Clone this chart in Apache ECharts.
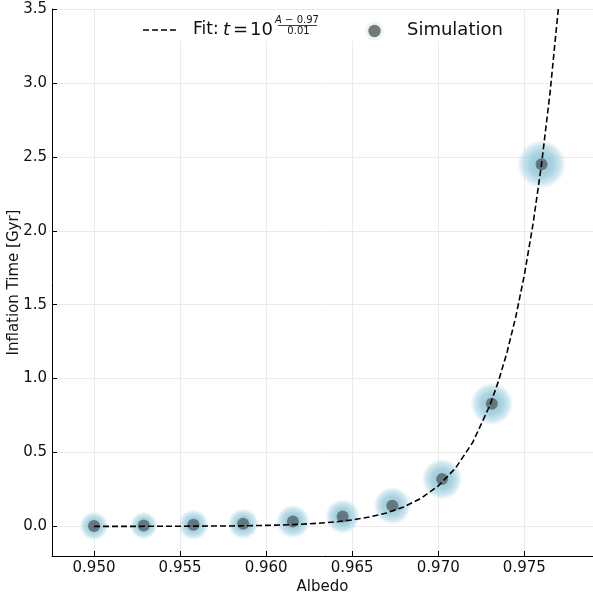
<!DOCTYPE html>
<html>
<head>
<meta charset="utf-8">
<script src="https://cdn.jsdelivr.net/npm/echarts@6/dist/echarts.min.js"></script>
<style>html,body{margin:0;padding:0;background:#fff}#c{width:593px;height:597px}</style>
</head>
<body>
<div id="c"></div>
<script>
// Simulation points
const albedo = [0.95, 0.952889, 0.955778, 0.958667, 0.961556, 0.964444, 0.967333, 0.970222, 0.973111, 0.976];
const inflationTime = [0.003, 0.006, 0.011, 0.018, 0.033, 0.067, 0.14, 0.32, 0.83, 2.45];
const glowSize = [28, 27, 30, 30, 33, 34, 37, 40, 42, 48];
// Fit curve
const fitAlbedo = [0.950, 0.952, 0.954, 0.956, 0.958, 0.960, 0.961, 0.962, 0.963, 0.964, 0.965, 0.966, 0.967, 0.968, 0.969, 0.970, 0.971, 0.972, 0.973, 0.9735, 0.974, 0.9745, 0.975, 0.9755, 0.976, 0.9765, 0.977];
const fitTime  = [0.0002, 0.0005, 0.0010, 0.0020, 0.0034, 0.0071, 0.0102, 0.0147, 0.0212, 0.0306, 0.0441, 0.0635, 0.0915, 0.132, 0.190, 0.274, 0.394, 0.568, 0.819, 0.983, 1.180, 1.416, 1.700, 2.041, 2.45, 2.94, 3.53];
const xTicks = [0.950, 0.955, 0.960, 0.965, 0.970, 0.975];
const yTicks = [0.0, 0.5, 1.0, 1.5, 2.0, 2.5, 3.0, 3.5];

const FONT = 'DejaVu Sans';
const chart = echarts.init(document.getElementById('c'), null, {renderer: 'canvas'});

const glow = {
  type: 'radial', x: 0.5, y: 0.5, r: 0.5,
  colorStops: [
    {offset: 0, color: 'rgba(150,200,216,1)'},
    {offset: 0.5, color: 'rgba(160,206,221,0.9)'},
    {offset: 0.8, color: 'rgba(175,215,228,0.6)'},
    {offset: 1, color: 'rgba(195,226,236,0.1)'}
  ]
};

const axisCommon = {
  axisLine: {show: true, onZero: false, lineStyle: {color: '#000', width: 1}},
  axisTick: {show: true, inside: true, length: 5, lineStyle: {color: '#000', width: 1}},
  splitLine: {show: true, lineStyle: {color: '#ebebeb', width: 1}},
  axisLabel: {color: '#111', fontFamily: FONT, fontSize: 15},
  nameTextStyle: {color: '#111', fontFamily: FONT, fontSize: 15},
  nameMoveOverlap: false
};

chart.setOption({
  animation: false,
  backgroundColor: '#fff',
  grid: {left: 52, top: 9, right: 0, bottom: 41, containLabel: false, outerBoundsMode: 'none'},
  xAxis: Object.assign({}, axisCommon, {
    type: 'value', min: 0.94756, max: 0.97899,
    name: 'Albedo', nameLocation: 'middle', nameGap: 24,
    axisTick: Object.assign({}, axisCommon.axisTick, {customValues: xTicks}),
    axisLabel: Object.assign({}, axisCommon.axisLabel, {customValues: xTicks, margin: 5, formatter: v => v.toFixed(3)}),
  }),
  yAxis: Object.assign({}, axisCommon, {
    type: 'value', min: -0.2, max: 3.5,
    name: 'Inflation Time [Gyr]', nameLocation: 'middle', nameGap: 30,
    axisTick: Object.assign({}, axisCommon.axisTick, {customValues: yTicks}),
    axisLabel: Object.assign({}, axisCommon.axisLabel, {customValues: yTicks, margin: 5, formatter: v => v.toFixed(1)}),
  }),
  series: [
    {
      type: 'scatter', name: 'glow', z: 2,
      data: albedo.map((a, i) => [a, inflationTime[i], glowSize[i]]),
      symbolSize: d => d[2],
      itemStyle: {color: glow, opacity: 1},
      silent: true
    },
    {
      type: 'scatter', name: 'Simulation', z: 3,
      data: albedo.map((a, i) => [a, inflationTime[i]]),
      symbolSize: 12,
      itemStyle: {color: 'rgba(55,57,60,0.72)'},
      silent: true
    },
    {
      type: 'line', name: 'Fit', z: 4,
      data: fitAlbedo.map((a, i) => [a, fitTime[i]]),
      showSymbol: false, smooth: false, clip: true,
      lineStyle: {color: '#000', width: 1.6, type: [6, 3]},
      silent: true
    }
  ],
  graphic: [
    {type: 'rect', shape: {x: 133, y: 10, width: 385, height: 31, r: 3}, style: {fill: 'rgba(255,255,255,0.85)'}, z: 100},
    {type: 'line', shape: {x1: 143, y1: 30, x2: 178, y2: 30}, style: {stroke: '#000', lineWidth: 1.6, lineDash: [6, 3]}, z: 101},
    {type: 'text', x: 193, y: 30, z: 101, style: {text: 'Fit:', verticalAlign: 'middle', align: 'left', fontFamily: FONT, fontSize: 17, fill: '#111'}},
    {type: 'text', x: 223, y: 30, z: 101, style: {text: 't', verticalAlign: 'middle', align: 'left', fontFamily: FONT, fontSize: 18, fontStyle: 'italic', fill: '#111'}},
    {type: 'text', x: 233, y: 30, z: 101, style: {text: '=', verticalAlign: 'middle', align: 'left', fontFamily: FONT, fontSize: 18, fill: '#111'}},
    {type: 'text', x: 250, y: 30, z: 101, style: {text: '10', verticalAlign: 'middle', align: 'left', fontFamily: FONT, fontSize: 18, fill: '#111'}},
    {type: 'text', x: 297, y: 20, z: 101, style: {
      text: '{i|A} − 0.97', align: 'center', verticalAlign: 'middle', fontFamily: FONT, fontSize: 10, fill: '#111',
      rich: {i: {fontFamily: FONT, fontSize: 10, fontStyle: 'italic', fill: '#111'}}
    }},
    {type: 'line', shape: {x1: 278, y1: 25.5, x2: 317, y2: 25.5}, style: {stroke: '#111', lineWidth: 0.8}, z: 101},
    {type: 'text', x: 298.5, y: 31, z: 101, style: {text: '0.01', align: 'center', verticalAlign: 'middle', fontFamily: FONT, fontSize: 10, fill: '#111'}},
    {type: 'circle', shape: {cx: 374.5, cy: 31, r: 9.5}, style: {fill: 'rgba(190,225,236,0.3)'}, z: 101},
    {type: 'circle', shape: {cx: 374.5, cy: 31, r: 6.2}, style: {fill: '#777'}, z: 102},
    {type: 'text', x: 407, y: 30, z: 101, style: {text: 'Simulation', align: 'left', verticalAlign: 'middle', fontFamily: FONT, fontSize: 18, fill: '#111'}}
  ]
});
</script>
</body>
</html>
